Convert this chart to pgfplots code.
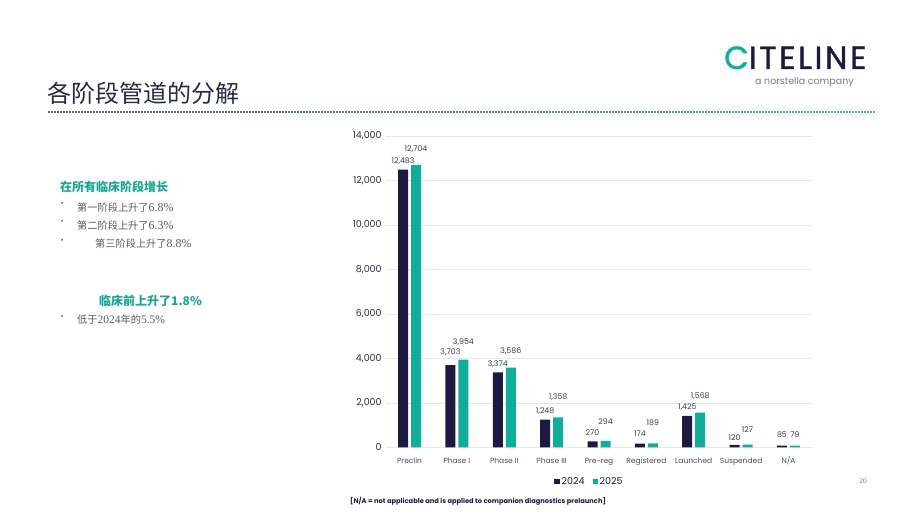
\documentclass[border=0pt]{standalone}
\usepackage{fontspec}
\usepackage{pgfplots}
\usepackage{pgfplotstable}
\pgfplotsset{compat=1.18}
\setmainfont{Poppins}
\newfontfamily\cjk{Noto Sans CJK SC}
\newfontfamily\serifL{Liberation Serif}
\newfontfamily\logofont[FakeBold=1.2,LetterSpace=8]{Poppins}
\definecolor{navy}{HTML}{1C1A40}
\definecolor{tealb}{HTML}{0FAE9B}
\definecolor{tealh}{HTML}{1AA596}
\definecolor{titlec}{HTML}{2A2A48}
\definecolor{textg}{HTML}{595966}
\definecolor{gridc}{HTML}{E8E8EA}
\definecolor{ytc}{HTML}{2B2B45}
\definecolor{xtc}{HTML}{4A4A60}
\definecolor{labc}{HTML}{3A3A50}
\definecolor{dotl}{HTML}{5E6078}
\definecolor{dotr}{HTML}{3DB5A5}
\definecolor{logog}{HTML}{7A7A88}

\pgfplotstableread{
x a b da db
0 12483 12704 8.8 15.5
1 3703 3954 13.1 17.5
2 3374 3586 8.4 16.7
3 1248 1358 8.7 20.3
4 270 294 8.5 19
5 174 189 9.9 20.6
6 1425 1568 8.5 16.6
7 120 127 7.1 15.4
8 85 79 10.6 10.7
}\data

\begin{document}
\begin{tikzpicture}
\path (0pt,0pt) rectangle (920pt,518pt);
\begin{axis}[
  at={(385.85pt,70.5pt)}, anchor=south west, scale only axis,
  width=426.3pt, height=311.5pt,
  xmin=-0.5, xmax=8.5, ymin=0, ymax=14000,
  ybar=3pt, bar width=10pt,
  axis line style={draw=none}, major tick length=0pt,
  ytick={0,2000,...,14000},
  xtick={0,...,8},
  xticklabels={Preclin,Phase I,Phase II,Phase III,Pre-reg,Registered,Launched,Suspended,N/A},
  ymajorgrids, grid style={draw=gridc, line width=0.9pt},
  scaled y ticks=false,
  /pgf/number format/.cd, 1000 sep={,}, assume math mode=true, /pgfplots/.cd,
  yticklabel style={font=\fontsize{9.5}{10}\selectfont, text=ytc, anchor=east, inner sep=0pt, xshift=-4pt},
  xticklabel style={font=\fontsize{7.5}{9}\selectfont, text=xtc, anchor=base, inner sep=0pt, yshift=-16.3pt},
  clip=false,
  legend style={at={(0.4777,-0.1098)}, anchor=center, draw=none, fill=none,
    legend columns=2, font=\fontsize{9.5}{11}\selectfont, text=navy,
    /tikz/every even column/.append style={column sep=6pt}, inner sep=0pt},
  legend image code/.code={\fill[#1,draw=none] (0pt,-2.6pt) rectangle (5.2pt,2.6pt);},
]
\addplot[fill=navy, draw=none,
  visualization depends on={\thisrow{da} \as \dy},
  nodes near coords,
  every node near coord/.append style={anchor=center, yshift=\dy pt, font=\fontsize{7.8}{8}\selectfont, text=labc, inner sep=0pt}]
  table[x=x,y=a]{\data};
\addplot[fill=tealb, draw=none,
  visualization depends on={\thisrow{db} \as \dy},
  nodes near coords,
  every node near coord/.append style={anchor=center, yshift=\dy pt, font=\fontsize{7.8}{8}\selectfont, text=labc, inner sep=0pt}]
  table[x=x,y=b]{\data};
\legend{2024,2025}
\end{axis}

\begin{scope}[x=1pt,y=-1pt,shift={(0pt,518pt)}]
  % title
  \node[anchor=west, inner sep=0pt, text=titlec, font=\cjk\fontsize{24}{26}\selectfont] at (47,93) {各阶段管道的分解};
  % dotted line
  \foreach \i in {0,...,45} {
    \pgfmathtruncatemacro\p{100-\i*100/45}
    \draw[draw=dotl!\p!dotr, line width=1.7pt, dash pattern=on 1.5pt off 1.5pt] (48+\i*18,112) -- ++(18,0);
  }
  % logo
  \node[anchor=base west, inner sep=0pt, font=\logofont\fontsize{32}{33}\selectfont, text=navy] at (724,69) {{\color{tealb}C}ITELINE};
  \node[anchor=base west, inner sep=0pt, font=\fontsize{9.5}{11}\selectfont, text=logog] at (755,85) {a norstella company};
  % left text
  \node[anchor=west, inner sep=0pt, text=tealh, font=\cjk\bfseries\fontsize{12}{14}\selectfont] at (60,187) {在所有临床阶段增长};
  \foreach \yy in {203,221,240,316} {\fill[textg] (62,\yy) circle (1pt);}
  \node[anchor=west, inner sep=0pt, text=textg, font=\cjk\fontsize{10.2}{12}\selectfont] at (77,208) {第一阶段上升了{\serifL\fontsize{12}{12}\selectfont 6.8\%}};
  \node[anchor=west, inner sep=0pt, text=textg, font=\cjk\fontsize{10.2}{12}\selectfont] at (77,226) {第二阶段上升了{\serifL\fontsize{12}{12}\selectfont 6.3\%}};
  \node[anchor=west, inner sep=0pt, text=textg, font=\cjk\fontsize{10.2}{12}\selectfont] at (95,244) {第三阶段上升了{\serifL\fontsize{12}{12}\selectfont 8.8\%}};
  \node[anchor=west, inner sep=0pt, text=tealh, font=\cjk\bfseries\fontsize{12}{14}\selectfont] at (99,301) {临床前上升了1.8\%};
  \node[anchor=west, inner sep=0pt, text=textg, font=\cjk\fontsize{10.2}{12}\selectfont] at (77,320) {低于{\serifL\fontsize{11.5}{12}\selectfont 2024}年的{\serifL\fontsize{11.5}{12}\selectfont 5.5\%}};
  % footnote
  \node[anchor=west, inner sep=0pt, text=navy, font=\bfseries\fontsize{6.7}{7}\selectfont] at (350,501) {[N/A = not applicable and is applied to companion diagnostics prelaunch]};
  % page number
  \node[inner sep=0pt, text=logog, font=\serifL\fontsize{7.5}{8}\selectfont] at (863,481) {20};
\end{scope}
\end{tikzpicture}
\end{document}
